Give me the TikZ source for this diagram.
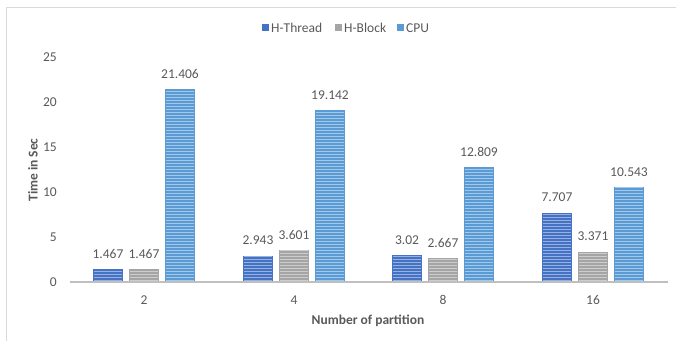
\documentclass[tikz,border=0pt]{standalone}
\usepackage{fontspec}
\setmainfont{Carlito}
\definecolor{cthread}{HTML}{4472C4}
\definecolor{cblock}{HTML}{A5A5A5}
\definecolor{ccpu}{HTML}{5B9BD5}
\definecolor{txt}{HTML}{595959}
\definecolor{axisc}{HTML}{BFBFBF}
\definecolor{framec}{HTML}{D9D9D9}
\tikzset{
  lbl/.style={font=\fontsize{13.5}{15}\selectfont, text=txt, inner sep=0pt},
  ttl/.style={font=\fontsize{13.5}{15}\selectfont\bfseries, text=txt, inner sep=0pt},
  stripe/.style={white, opacity=0.45, line width=1pt},
}
\begin{document}
\begin{tikzpicture}[x=1pt,y=-1pt]
\useasboundingbox (0,0) rectangle (676,341);
% frame
\draw[framec, line width=0.8pt] (6.5,341) -- (6.5,7) -- (676,7);
% legend
\fill[cthread] (262,24) rectangle (269,31);
\node[lbl, anchor=west] (lg1) at (271,28) {H-Thread};
\fill[cblock] (335,24) rectangle (342,31);
\node[lbl, anchor=west] (lg2) at (344,28) {H-Block};
\fill[ccpu] (397,24) rectangle (404,31);
\node[lbl, anchor=west] (lg3) at (406,28) {CPU};
% y tick labels
\foreach \v in {0,5,10,15,20,25}{
  \node[lbl, anchor=east] (yt\v) at (57,{282-9*\v}) {\v};
}
\node[ttl, rotate=90] (ytitle) at (33,170) {Time in Sec};
% bars
\foreach \g/\cx/\cat/\a/\b/\c in {1/144/2/1.467/1.467/21.406, 2/294/4/2.943/3.601/19.142, 3/443/8/3.02/2.667/12.809, 4/593/16/7.707/3.371/10.543}{
  \fill[cthread] (\cx-51,282) rectangle (\cx-21,{282-9*\a});
  \fill[cblock] (\cx-15,282) rectangle (\cx+15,{282-9*\b});
  \fill[ccpu] (\cx+21,282) rectangle (\cx+51,{282-9*\c});
  \foreach \x/\v in {\cx-51/\a,\cx-15/\b,\cx+21/\c}{
    \foreach \yy in {282,279,...,0}{
      \pgfmathparse{\yy>282-9*\v+1 ? 1 : 0}
      \ifnum\pgfmathresult=1
        \draw[stripe] (\x+1,\yy-1.5) -- (\x+29,\yy-1.5);
      \fi
    }
  }
  \node[lbl] (la\g) at (\cx-36,{282-9*\a-15}) {\a};
  \node[lbl] (lb\g) at (\cx,{282-9*\b-15}) {\b};
  \node[lbl] (lc\g) at (\cx+36,{282-9*\c-15}) {\c};
  \node[lbl] (cat\g) at (\cx,300) {\cat};
}
% axis
\draw[axisc, line width=1.2pt] (70,282) -- (668,282);
\node[ttl] (xtitle) at (368,321) {Number of partition};
\end{tikzpicture}
\end{document}
